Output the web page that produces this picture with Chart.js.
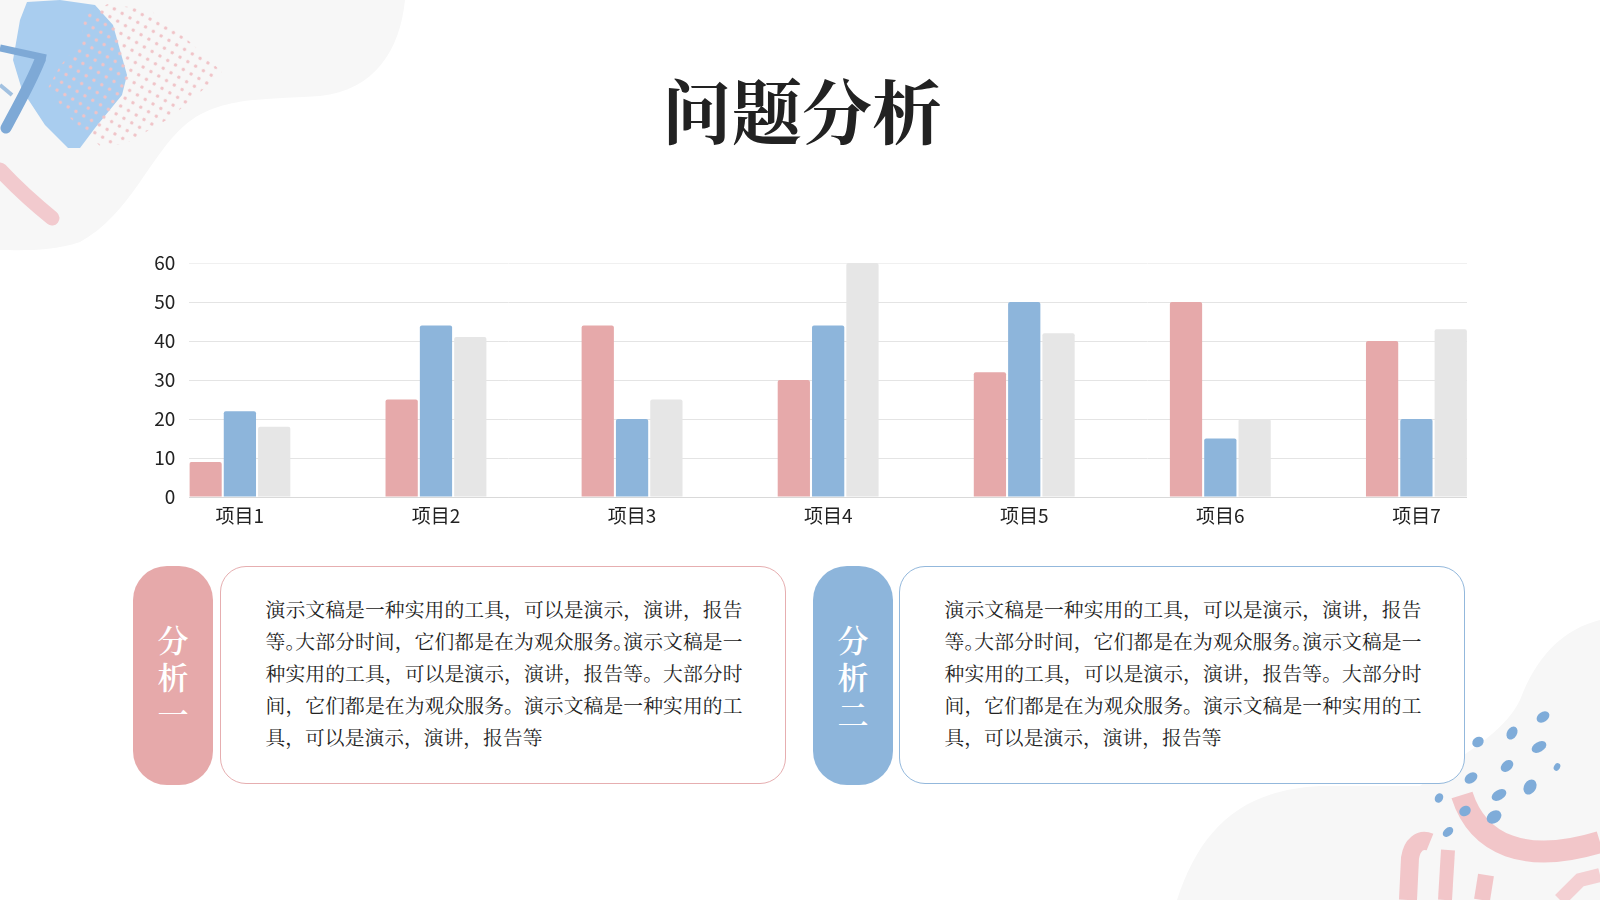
<!DOCTYPE html>
<html lang="zh-CN">
<head>
<meta charset="utf-8">
<title>问题分析</title>
<script src="https://cdn.jsdelivr.net/npm/chart.js@4.4.1/dist/chart.umd.min.js"></script>
<style>
  html, body { margin: 0; padding: 0; background: #ffffff; }
  body { width: 1600px; height: 900px; position: relative; overflow: hidden;
         font-family: "Noto Sans CJK SC", "Noto Sans", sans-serif; }
  #deco { position: absolute; left: 0; top: 0; width: 1600px; height: 900px; }
  #title { position: absolute; left: 0; top: 74px; width: 1604px; text-align: center;
           font-family: "Noto Serif CJK SC", "Noto Sans CJK SC", serif; font-weight: 700;
           font-size: 70px; line-height: 70px; color: #222222; }
  #chartBox { position: absolute; left: 100px; top: 233px; width: 1367px; height: 304px; }
  .pill { position: absolute; top: 566px; width: 80px; height: 219px; border-radius: 34px;
          display: flex; align-items: center; justify-content: center; }
  .pill div { color: #ffffff; font-family: "Noto Serif CJK SC", "Noto Sans CJK SC", serif;
              font-size: 31px; line-height: 37px; text-align: center; font-weight: 600; }
  .box { position: absolute; top: 566px; height: 218px; border-radius: 26px; background: #ffffff;
         box-sizing: border-box; }
  .txt { position: absolute; top: 593px; width: 477px; font-size: 19.8px; line-height: 32px;
         color: #222222; font-family: "Noto Serif CJK SC", "Noto Sans CJK SC", serif; }
  .txt span { display: block; white-space: nowrap; text-align: justify; text-align-last: justify; }
  .txt span.last { text-align: left; text-align-last: left; }
  .txt i { font-style: normal; font-feature-settings: "halt"; }
</style>
</head>
<body>
<svg id="deco" width="1600" height="900" viewBox="0 0 1600 900" xmlns="http://www.w3.org/2000/svg">
  <defs>
    <pattern id="dots" width="9" height="9" patternUnits="userSpaceOnUse" patternTransform="rotate(30)">
      <circle cx="4.5" cy="4.5" r="1.7" fill="#F0C3C7"/>
    </pattern>
    <clipPath id="dotClip">
      <polygon points="108,4 150,10 190,42 222,72 205,88 170,118 125,144 100,146 70,118 48,88 60,66 82,40 84,14"/>
    </clipPath>
  </defs>
  <!-- top-left grey blob -->
  <path d="M0,0 L405,0 C400,50 375,90 320,96 C270,100 220,95 185,125 C150,155 130,215 80,242 C50,252 20,250 0,250 Z" fill="#F7F7F7"/>
  <!-- pink brush bottom-left -->
  <path d="M0,170 C15,186 32,202 52,218" stroke="#F2CACE" stroke-width="15" stroke-linecap="round" fill="none"/>
  <!-- blue blob -->
  <polygon points="27,2 60,0 95,5 113,25 127,75 122,95 95,128 80,148 68,148 45,125 22,90 13,60 20,20" fill="#A9CDEF"/>
  <!-- pink dots -->
  <rect x="40" y="0" width="190" height="150" fill="url(#dots)" clip-path="url(#dotClip)"/>
  <!-- blue brush strokes -->
  <path d="M0,48 L46,58" stroke="#7EA9D6" stroke-width="7" fill="none"/>
  <path d="M40,60 C30,85 18,105 6,128" stroke="#7EA9D6" stroke-width="11" fill="none" stroke-linecap="round"/>
  <path d="M0,85 L12,95" stroke="#7EA9D6" stroke-width="4" fill="none" opacity="0.7"/>

  <!-- bottom-right grey blob -->
  <path d="M1177,900 C1200,830 1240,790 1320,786 L1420,786 C1450,760 1500,740 1520,700 C1535,660 1560,630 1600,620 L1600,900 Z" fill="#F7F7F7"/>
  <!-- pink brush bottom-right -->
  <g fill="none" stroke="#F2C6C9" stroke-linecap="butt">
    <path d="M1462,795 C1478,845 1525,865 1600,842" stroke-width="22"/>
    <path d="M1408,900 L1410,858 C1412,845 1420,838 1430,842" stroke-width="18"/>
    <path d="M1445,900 L1448,850" stroke-width="14"/>
    <path d="M1482,900 L1486,875" stroke-width="16"/>
    <path d="M1560,900 L1580,880 L1600,875" stroke-width="14" opacity="0.8"/>
  </g>
  <!-- blue drops -->
  <g fill="#7FACD9">
    <ellipse cx="1543" cy="717" rx="7" ry="5" transform="rotate(-35 1543 717)"/>
    <ellipse cx="1512" cy="733" rx="7" ry="5" transform="rotate(-60 1512 733)"/>
    <ellipse cx="1478" cy="742" rx="6" ry="5" transform="rotate(-35 1478 742)"/>
    <ellipse cx="1539" cy="747" rx="8" ry="5" transform="rotate(-30 1539 747)"/>
    <ellipse cx="1507" cy="766" rx="7" ry="5" transform="rotate(-40 1507 766)"/>
    <ellipse cx="1557" cy="767" rx="4" ry="3" transform="rotate(-60 1557 767)"/>
    <ellipse cx="1471" cy="778" rx="7" ry="5" transform="rotate(-35 1471 778)"/>
    <ellipse cx="1530" cy="787" rx="8" ry="6" transform="rotate(-60 1530 787)"/>
    <ellipse cx="1499" cy="795" rx="8" ry="5" transform="rotate(-30 1499 795)"/>
    <ellipse cx="1439" cy="798" rx="5" ry="4" transform="rotate(-60 1439 798)"/>
    <ellipse cx="1465" cy="811" rx="6" ry="5" transform="rotate(-30 1465 811)"/>
    <ellipse cx="1494" cy="817" rx="8" ry="6" transform="rotate(-35 1494 817)"/>
    <ellipse cx="1448" cy="832" rx="6" ry="4" transform="rotate(-40 1448 832)"/>
  </g>
</svg>

<div id="title">问题分析</div>

<div id="chartBox"><canvas id="chart"></canvas></div>

<div class="pill" style="left:133px; background:#E6A9AA;"><div>分<br>析<br>一</div></div>
<div class="box" style="left:220px; width:566px; border:1.6px solid #E6AEB0;"></div>
<div class="txt" style="left:265.5px;"><span>演示文稿是一种实用的工具，可以是演示，演讲，报告</span><span>等<i>。</i>大部分时间，它们都是在为观众服务<i>。</i>演示文稿是一</span><span>种实用的工具，可以是演示，演讲，报告等。大部分时</span><span>间，它们都是在为观众服务。演示文稿是一种实用的工</span><span class="last">具，可以是演示，演讲，报告等</span></div>

<div class="pill" style="left:813px; background:#8DB5DB;"><div>分<br>析<br>二</div></div>
<div class="box" style="left:899px; width:566px; border:1.6px solid #93B8DC;"></div>
<div class="txt" style="left:944.5px;"><span>演示文稿是一种实用的工具，可以是演示，演讲，报告</span><span>等<i>。</i>大部分时间，它们都是在为观众服务<i>。</i>演示文稿是一</span><span>种实用的工具，可以是演示，演讲，报告等。大部分时</span><span>间，它们都是在为观众服务。演示文稿是一种实用的工</span><span class="last">具，可以是演示，演讲，报告等</span></div>

<script>
// ---- data ----
const categories = ['项目1', '项目2', '项目3', '项目4', '项目5', '项目6', '项目7'];
const series1Name = '系列1';
const series2Name = '系列2';
const series3Name = '系列3';
const series1 = [9, 25, 44, 30, 32, 50, 40];
const series2 = [22, 44, 20, 44, 50, 15, 20];
const series3 = [18, 41, 25, 60, 42, 20, 43];
const yTicks = [0, 10, 20, 30, 40, 50, 60];

const colors = ['#E6A9AA', '#8DB5DB', '#E6E6E6'];
const tickFont = { family: '"Noto Sans CJK SC", "Noto Sans", sans-serif', size: 19 };

function toPoints(values) {
  return values.map((v, i) => ({ x: i, y: v }));
}

const datasets = [
  { label: series1Name, data: toPoints(series1), backgroundColor: colors[0] },
  { label: series2Name, data: toPoints(series2), backgroundColor: colors[1] },
  { label: series3Name, data: toPoints(series3), backgroundColor: colors[2] }
].map(d => Object.assign(d, {
  barPercentage: 0.94,
  categoryPercentage: 0.525,
  borderRadius: 2,
  borderSkipped: 'start'
}));

new Chart(document.getElementById('chart'), {
  type: 'bar',
  data: { datasets },
  options: {
    responsive: true,
    maintainAspectRatio: false,
    animation: false,
    layout: { padding: { top: 30, left: 0, right: 0, bottom: 0 } },
    plugins: { legend: { display: false }, tooltip: { enabled: false } },
    scales: {
      x: {
        type: 'linear',
        offset: false,
        min: -0.258,
        max: categories.length - 1 + 0.258,
        afterBuildTicks: s => { s.ticks = categories.map((c, i) => ({ value: i })); },
        afterFit: s => { s.height = 40; },
        grid: { display: false, drawTicks: false, offset: false },
        border: { display: true, color: '#D9D9D9', width: 1 },
        ticks: {
          autoSkip: false, maxRotation: 0, padding: 7, color: '#222222', font: tickFont,
          callback: v => categories[v]
        }
      },
      y: {
        min: yTicks[0],
        max: yTicks[yTicks.length - 1],
        afterBuildTicks: s => { s.ticks = yTicks.map(v => ({ value: v })); },
        afterFit: s => { s.width = 89.3; },
        grid: {
          drawTicks: false,
          lineWidth: 1,
          color: c => (c.tick && c.tick.value === 0) ? '#D9D9D9' :
                      (c.tick && c.tick.value === 60) ? '#F0F0F0' : '#E4E4E4'
        },
        border: { display: false },
        ticks: { padding: 14, color: '#222222', font: tickFont }
      }
    }
  }
});
</script>
</body>
</html>
